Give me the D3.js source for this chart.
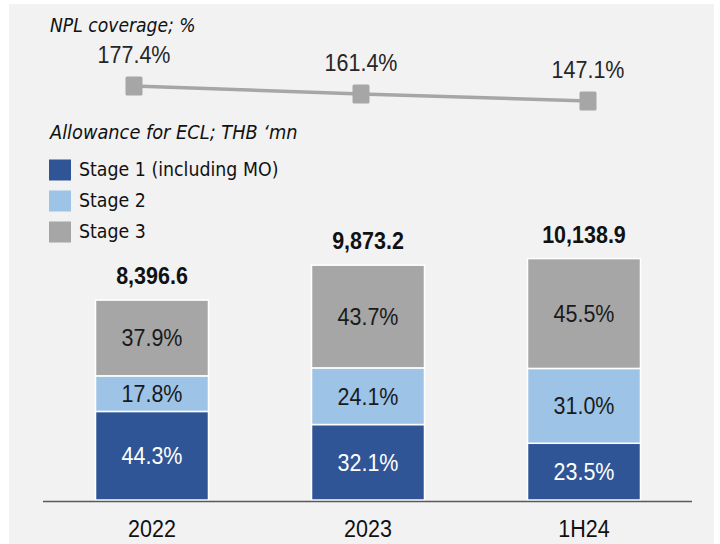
<!DOCTYPE html>
<html>
<head>
<meta charset="utf-8" />
<title>Allowance for ECL</title>
<style type="text/css">
  body { margin: 0; background: #ffffff; }
  svg { display: block; }
</style>
<script src="https://d3js.org/d3.v7.min.js"></script>
</head>
<body>
<div id="chart"></div>
<script>

// ---- data ----
var periods = ["2022", "2023", "1H24"];
var totals = [8396.6, 9873.2, 10138.9];
var totalLabels = ["8,396.6", "9,873.2", "10,138.9"];
var stage1Pct = [44.3, 32.1, 23.5];
var stage2Pct = [17.8, 24.1, 31.0];
var stage3Pct = [37.9, 43.7, 45.5];
var nplCoverage = [177.4, 161.4, 147.1];
var stageNames = ["Stage 1 (including MO)", "Stage 2", "Stage 3"];
var stageColors = ["#2f5597", "#9dc3e6", "#a6a6a6"];
var stageTextColors = ["#ffffff", "#1a1a1a", "#1a1a1a"];

var width = 720, height = 544;
var sy = 1.12; // the source picture is a little stretched vertically

var svg = d3.select("#chart")
  .append("svg")
    .attr("width", width)
    .attr("height", height);

// panel background
svg.append("rect")
  .attr("x", 9).attr("y", 4)
  .attr("width", 705).attr("height", 540)
  .attr("fill", "#f2f2f2");

function label(g, x, y, txt) {
  return g.append("text")
    .attr("transform", "translate(" + x + "," + y + ") scale(1," + sy + ")")
    .text(txt);
}

// ---- stacked bars ----
var x = d3.scaleBand()
  .domain(periods)
  .range([44, 692])
  .paddingInner(0.477)
  .paddingOuter(0.2385);

var y = d3.scaleLinear()
  .domain([0, 10500])
  .range([500, 250]);

var rows = periods.map(function(p, i) {
  return { period: p, s1: totals[i] * stage1Pct[i] / 100,
           s2: totals[i] * stage2Pct[i] / 100,
           s3: totals[i] * stage3Pct[i] / 100,
           pct: [stage1Pct[i], stage2Pct[i], stage3Pct[i]] };
});

var stack = d3.stack().keys(["s1", "s2", "s3"]);
var series = stack(rows);

var layers = svg.append("g").selectAll("g")
  .data(series)
  .enter().append("g")
    .attr("fill", function(d, i) { return stageColors[i]; });

layers.selectAll("rect")
  .data(function(d) { return d; })
  .enter().append("rect")
    .attr("x", function(d) { return x(d.data.period); })
    .attr("y", function(d) { return y(d[1]); })
    .attr("width", x.bandwidth())
    .attr("height", function(d) { return y(d[0]) - y(d[1]); })
    .attr("stroke", "#ffffff")
    .attr("stroke-width", 1.5);

// percentage labels inside segments
series.forEach(function(s, si) {
  s.forEach(function(d, j) {
    var cx = x(d.data.period) + x.bandwidth() / 2;
    var cy = (y(d[0]) + y(d[1])) / 2;
    label(svg, cx, cy + 8.5, d.data.pct[si].toFixed(1) + "%")
      .attr("text-anchor", "middle")
      .attr("font-family", "'Liberation Sans', Arial, sans-serif")
      .attr("font-size", "21.5px")
      .attr("fill", stageTextColors[si]);
  });
});

// totals on top
periods.forEach(function(p, i) {
  label(svg, x(p) + x.bandwidth() / 2, y(totals[i]) - 16, totalLabels[i])
    .attr("text-anchor", "middle")
    .attr("font-family", "'Liberation Sans', Arial, sans-serif")
    .attr("font-weight", "bold")
    .attr("font-size", "21.5px")
    .attr("fill", "#111111");
});

// baseline axis
svg.append("line")
  .attr("x1", 43).attr("x2", 692)
  .attr("y1", 501.5).attr("y2", 501.5)
  .attr("stroke", "#595959")
  .attr("stroke-width", 1.5);

periods.forEach(function(p) {
  label(svg, x(p) + x.bandwidth() / 2, 536.5, p)
    .attr("text-anchor", "middle")
    .attr("font-family", "'Liberation Sans', Arial, sans-serif")
    .attr("font-size", "21.5px")
    .attr("fill", "#111111");
});

// ---- NPL coverage line ----
var lx = d3.scalePoint()
  .domain(periods)
  .range([134, 588]);

var ly = d3.scaleLinear()
  .domain([100, 200])
  .range([124.3, 74.8]);

var linePts = periods.map(function(p, i) { return { period: p, v: nplCoverage[i] }; });

svg.append("path")
  .datum(linePts)
  .attr("fill", "none")
  .attr("stroke", "#a6a6a6")
  .attr("stroke-width", 3.5)
  .attr("d", d3.line()
    .x(function(d) { return lx(d.period); })
    .y(function(d) { return ly(d.v); }));

svg.selectAll(".marker")
  .data(linePts)
  .enter().append("rect")
    .attr("class", "marker")
    .attr("x", function(d) { return lx(d.period) - 8.5; })
    .attr("y", function(d) { return ly(d.v) - 9.5; })
    .attr("width", 17)
    .attr("height", 19)
    .attr("rx", 1.5)
    .attr("fill", "#a6a6a6");

linePts.forEach(function(d) {
  label(svg, lx(d.period), ly(d.v) - 23, d.v.toFixed(1) + "%")
    .attr("text-anchor", "middle")
    .attr("font-family", "'Liberation Sans', Arial, sans-serif")
    .attr("font-size", "21.5px")
    .attr("fill", "#262626");
});

// ---- titles and legend ----
label(svg, 50, 32, "NPL coverage; %")
  .attr("font-family", "'DejaVu Sans', Verdana, sans-serif")
  .attr("font-style", "italic")
  .attr("font-size", "17.2px")
  .attr("fill", "#111111");

label(svg, 50, 139, "Allowance for ECL; THB \u2018mn")
  .attr("font-family", "'DejaVu Sans', Verdana, sans-serif")
  .attr("font-style", "italic")
  .attr("font-size", "17.8px")
  .attr("fill", "#111111");

var legend = svg.append("g");
stageNames.forEach(function(name, i) {
  var cy = 170 + i * 31;
  legend.append("rect")
    .attr("x", 49).attr("y", cy - 10.5)
    .attr("width", 22).attr("height", 21)
    .attr("fill", stageColors[i]);
  label(legend, 79, cy + 6, name)
    .attr("font-family", "'DejaVu Sans', Verdana, sans-serif")
    .attr("font-size", "17.4px")
    .attr("fill", "#111111");
});

</script>
</body>
</html>
